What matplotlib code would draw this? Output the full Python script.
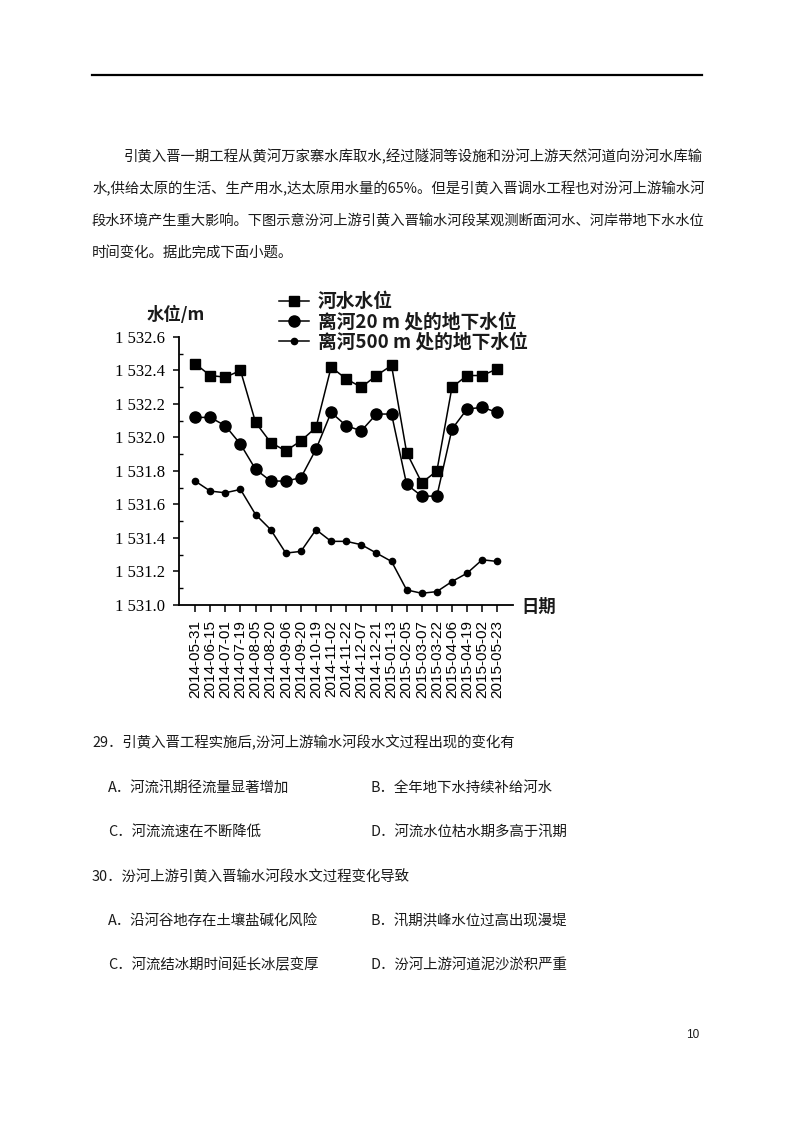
import matplotlib
matplotlib.use('Agg')
import matplotlib.pyplot as plt
from matplotlib.lines import Line2D

plt.rcParams['font.family'] = ['Noto Sans CJK SC', 'DejaVu Sans']

# 观测日期与三组水位 (m)
dates = ['2014-05-31', '2014-06-15', '2014-07-01', '2014-07-19', '2014-08-05',
         '2014-08-20', '2014-09-06', '2014-09-20', '2014-10-19', '2014-11-02',
         '2014-11-22', '2014-12-07', '2014-12-21', '2015-01-13', '2015-02-05',
         '2015-03-07', '2015-03-22', '2015-04-06', '2015-04-19', '2015-05-02',
         '2015-05-23']
river = [1532.44, 1532.37, 1532.36, 1532.40, 1532.09, 1531.97, 1531.92, 1531.98,
         1532.06, 1532.42, 1532.35, 1532.30, 1532.37, 1532.43, 1531.91, 1531.73,
         1531.80, 1532.30, 1532.37, 1532.37, 1532.41]
gw20 = [1532.12, 1532.12, 1532.07, 1531.96, 1531.81, 1531.74, 1531.74, 1531.76,
        1531.93, 1532.15, 1532.07, 1532.04, 1532.14, 1532.14, 1531.72, 1531.65,
        1531.65, 1532.05, 1532.17, 1532.18, 1532.15]
gw500 = [1531.74, 1531.68, 1531.67, 1531.69, 1531.54, 1531.45, 1531.31, 1531.32,
         1531.45, 1531.38, 1531.38, 1531.36, 1531.31, 1531.26, 1531.09, 1531.07,
         1531.08, 1531.14, 1531.19, 1531.27, 1531.26]
yticks = [1531.0, 1531.2, 1531.4, 1531.6, 1531.8, 1532.0, 1532.2, 1532.4, 1532.6]
series_names = ['河水水位', '离河20 m 处的地下水位', '离河500 m 处的地下水位']

para = ['引黄入晋一期工程从黄河万家寨水库取水,经过隧洞等设施和汾河上游天然河道向汾河水库输',
        '水,供给太原的生活、生产用水,达太原用水量的65%。但是引黄入晋调水工程也对汾河上游输水河',
        '段水环境产生重大影响。下图示意汾河上游引黄入晋输水河段某观测断面河水、河岸带地下水水位',
        '时间变化。据此完成下面小题。']
q29 = '29．引黄入晋工程实施后,汾河上游输水河段水文过程出现的变化有'
opts29 = ['A．河流汛期径流量显著增加', 'B．全年地下水持续补给河水',
          'C．河流流速在不断降低', 'D．河流水位枯水期多高于汛期']
q30 = '30．汾河上游引黄入晋输水河段水文过程变化导致'
opts30 = ['A．沿河谷地存在土壤盐碱化风险', 'B．汛期洪峰水位过高出现漫堤',
          'C．河流结冰期时间延长冰层变厚', 'D．汾河上游河道泥沙淤积严重']

W, H = 794, 1123
fig = plt.figure(figsize=(W / 100, H / 100), dpi=100)
fig.patch.set_facecolor('white')


def put(x, y, s, **kw):
    kw.setdefault('fontsize', 10.4)
    kw.setdefault('color', '#1a1a1a')
    kw.setdefault('va', 'center')
    fig.text(x / W, 1 - y / H, s, **kw)


# 页眉线
fig.add_artist(Line2D([92 / W, 702 / W], [1 - 75 / H] * 2, color='black', lw=1.6))

# 材料
put(124, 157, para[0])
put(92, 189, para[1])
put(92, 221, para[2], fontsize=10.3)
put(92, 253, para[3])

# 图
ax = fig.add_axes([179 / W, 1 - 605 / H, 334 / W, 268 / H])
x = range(len(dates))
ax.plot(x, river, '-s', color='black', lw=1.1, ms=6.5, label=series_names[0])
ax.plot(x, gw20, '-o', color='black', lw=1.1, ms=8, label=series_names[1])
ax.plot(x, gw500, '-o', color='black', lw=1.1, ms=4.5, label=series_names[2])
ax.set_xlim(-1.07, 21.04)
ax.set_ylim(1531.0, 1532.6)
ax.spines['top'].set_visible(False)
ax.spines['right'].set_visible(False)
ax.spines['left'].set_linewidth(1.3)
ax.spines['bottom'].set_linewidth(1.3)
ax.set_yticks(yticks)
ax.set_yticklabels(['1 %s' % format(v - 1000, '.1f') for v in yticks],
                   fontfamily='Liberation Serif', fontsize=12)
ax.set_yticks([v + 0.1 for v in yticks[:-1]], minor=True)
ax.set_xticks(list(x))
ax.set_xticklabels(dates, rotation=90, fontfamily='Liberation Sans', fontsize=11)
ax.tick_params(axis='y', which='major', direction='out', length=4, width=1.1, pad=6)
ax.tick_params(axis='y', which='minor', direction='in', length=3, width=1)
ax.tick_params(axis='x', direction='out', length=5, width=1.1, pad=6)
ax.patch.set_alpha(0)

leg = ax.legend(loc='upper left', bbox_to_anchor=(270 / W, 1 - 283 / H),
                bbox_transform=fig.transFigure, frameon=False,
                prop={'size': 13.5, 'weight': 'bold'}, handlelength=1.6,
                handletextpad=0.45, labelspacing=0.05, borderpad=0)
for t in leg.get_texts():
    t.set_color('#1a1a1a')

put(147, 315, '水位/m', fontsize=12.5, fontweight='bold', ha='left')
put(521, 607, '日期', fontsize=12.5, fontweight='bold', ha='left')

# 题目
put(92, 743, q29)
put(108, 788, opts29[0])
put(371, 788, opts29[1])
put(108, 832, opts29[2])
put(371, 832, opts29[3])
put(92, 877, q30)
put(108, 921, opts30[0])
put(371, 921, opts30[1])
put(108, 965, opts30[2])
put(371, 965, opts30[3])

put(693, 1035, '10', fontsize=8.5, fontfamily='Liberation Sans', ha='center')

fig.savefig('out.png', dpi=100)
